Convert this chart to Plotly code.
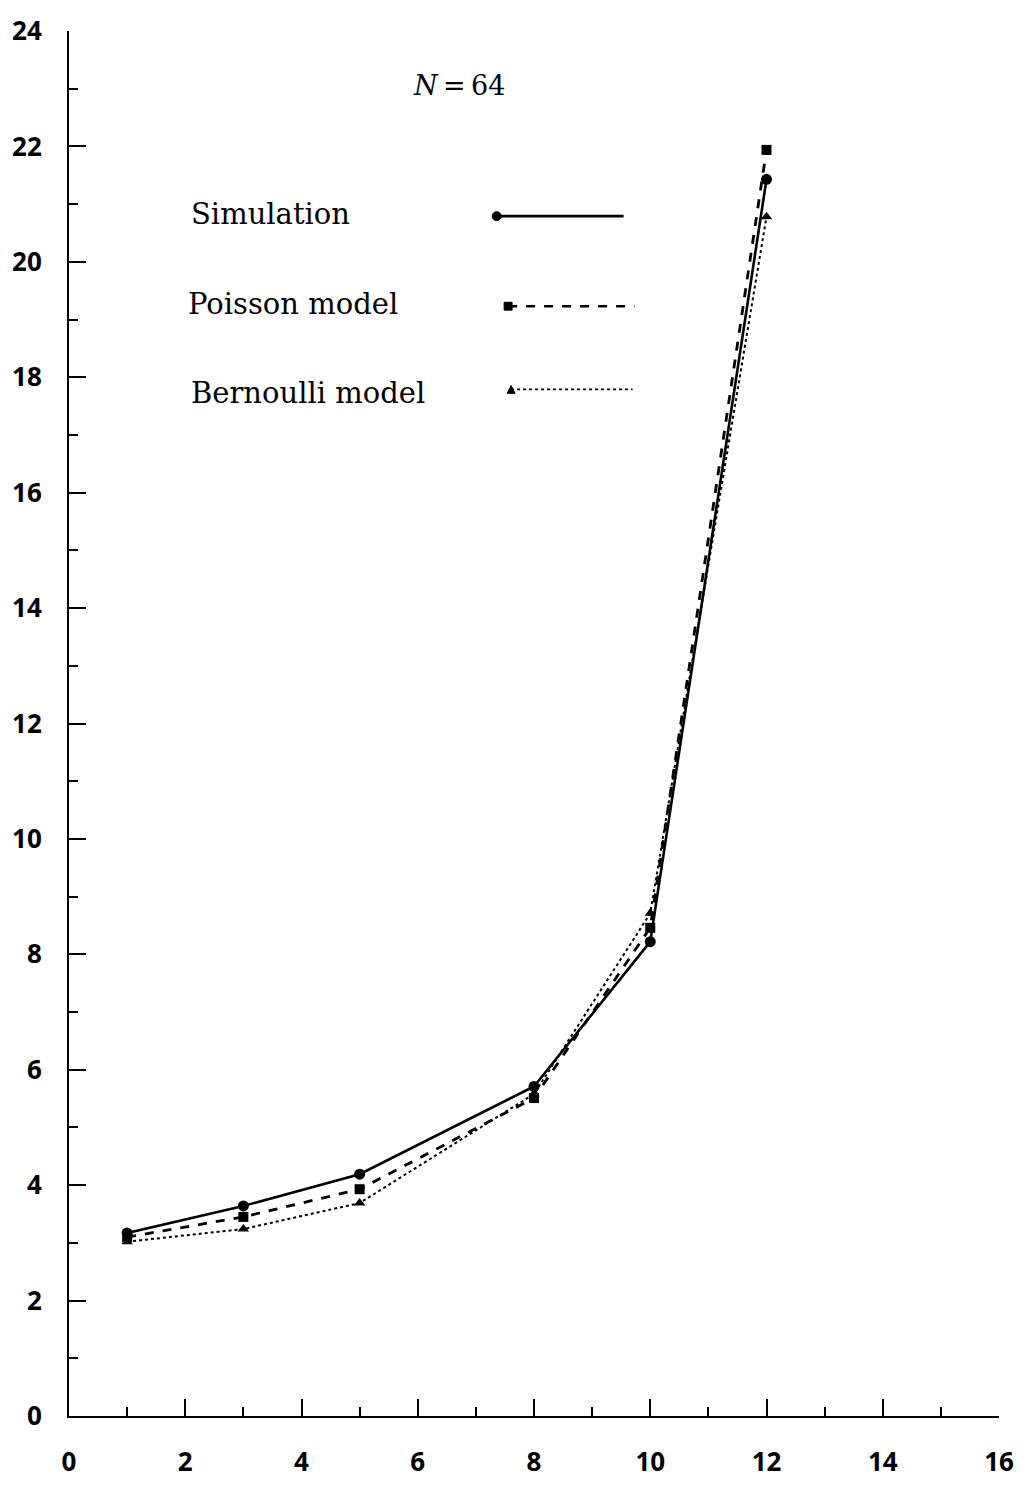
import plotly.graph_objects as go

x_vals = [1, 3, 5, 8, 10, 12]
simulation = [3.17, 3.64, 4.19, 5.71, 8.22, 21.43]
poisson = [3.10, 3.45, 3.93, 5.51, 8.46, 21.94]
bernoulli = [3.02, 3.24, 3.69, 5.58, 8.71, 20.78]
x_ticks = [0, 2, 4, 6, 8, 10, 12, 14, 16]
y_ticks = [0, 2, 4, 6, 8, 10, 12, 14, 16, 18, 20, 22, 24]
labels = ["Simulation", "Poisson model", "Bernoulli model"]

W, H = 1026, 1491
L, R, T, B = 68, 24, 22, 70
pw, ph = W - L - R, H - T - B

def px(xp):
    return (xp - L) / pw

def py(yp):
    return (H - B - yp) / ph

fig = go.Figure()
fig.add_trace(go.Scatter(x=x_vals, y=bernoulli, mode="lines+markers", name=labels[2],
                         line=dict(color="black", width=2, dash="dot"),
                         marker=dict(symbol="triangle-up", size=10, color="black")))
fig.add_trace(go.Scatter(x=x_vals, y=poisson, mode="lines+markers", name=labels[1],
                         line=dict(color="black", width=2.8, dash="dash"),
                         marker=dict(symbol="square", size=10, color="black")))
fig.add_trace(go.Scatter(x=x_vals, y=simulation, mode="lines+markers", name=labels[0],
                         line=dict(color="black", width=2.6),
                         marker=dict(symbol="circle", size=11, color="black")))

serif = "DejaVu Serif"
leg_rows = [(labels[0], 189, 207), (labels[1], 186, 298), (labels[2], 189, 388)]
anns = []
for txt, xl, yc in leg_rows:
    anns.append(dict(text=txt, x=px(xl), y=py(yc), xref="paper", yref="paper",
                     xanchor="left", yanchor="middle", showarrow=False,
                     font=dict(family=serif, size=29, color="black")))
anns.append(dict(text="<i>N</i>\u2009=\u200964", x=px(460), y=py(77), xref="paper", yref="paper",
                 xanchor="center", yanchor="middle", showarrow=False,
                 font=dict(family=serif, size=27, color="black")))

shapes = []
shapes.append(dict(type="line", xref="paper", yref="paper", x0=px(497), x1=px(625), y0=py(209), y1=py(209),
                   line=dict(color="black", width=2.6)))
shapes.append(dict(type="circle", xref="paper", yref="paper", x0=px(493), x1=px(502), y0=py(213.5), y1=py(204.5),
                   fillcolor="black", line=dict(color="black", width=1)))
shapes.append(dict(type="line", xref="paper", yref="paper", x0=px(509), x1=px(636), y0=py(300), y1=py(300),
                   line=dict(color="black", width=2.6, dash="dash")))
shapes.append(dict(type="rect", xref="paper", yref="paper", x0=px(505), x1=px(513), y0=py(304), y1=py(296),
                   fillcolor="black", line=dict(color="black", width=1)))
shapes.append(dict(type="line", xref="paper", yref="paper", x0=px(512), x1=px(634), y0=py(384), y1=py(384),
                   line=dict(color="black", width=1.8, dash="dot")))
shapes.append(dict(type="path", xref="paper", yref="paper",
                   path=f"M {px(508)} {py(388)} L {px(516)} {py(388)} L {px(512)} {py(380)} Z",
                   fillcolor="black", line=dict(color="black", width=1)))

tickfont = dict(family="Open Sans", size=26, color="black", weight="bold")

fig.update_layout(
    width=W, height=H,
    margin=dict(l=L, r=R, t=T, b=B),
    paper_bgcolor="white", plot_bgcolor="white",
    showlegend=False,
    hovermode=False,
    annotations=anns,
    shapes=shapes,
    xaxis=dict(range=[0, 16], tickvals=x_ticks, ticktext=[str(v) for v in x_ticks],
               showgrid=False, zeroline=False, showline=True, linecolor="black", linewidth=2,
               ticks="inside", ticklen=17, tickwidth=2, tickcolor="black",
               tickfont=tickfont, ticklabelstandoff=22,
               minor=dict(dtick=1, ticks="inside", ticklen=9, tickwidth=2, tickcolor="black", showgrid=False)),
    yaxis=dict(range=[0, 24], tickvals=y_ticks, ticktext=[str(v) for v in y_ticks],
               showgrid=False, zeroline=False, showline=True, linecolor="black", linewidth=2,
               ticks="inside", ticklen=17, tickwidth=2, tickcolor="black",
               tickfont=tickfont, ticklabelstandoff=20,
               minor=dict(dtick=1, ticks="inside", ticklen=9, tickwidth=2, tickcolor="black", showgrid=False)),
)

fig.write_html("out.html", config={"displayModeBar": False},
               post_script="document.body.style.margin='0';document.body.style.overflow='hidden';")
